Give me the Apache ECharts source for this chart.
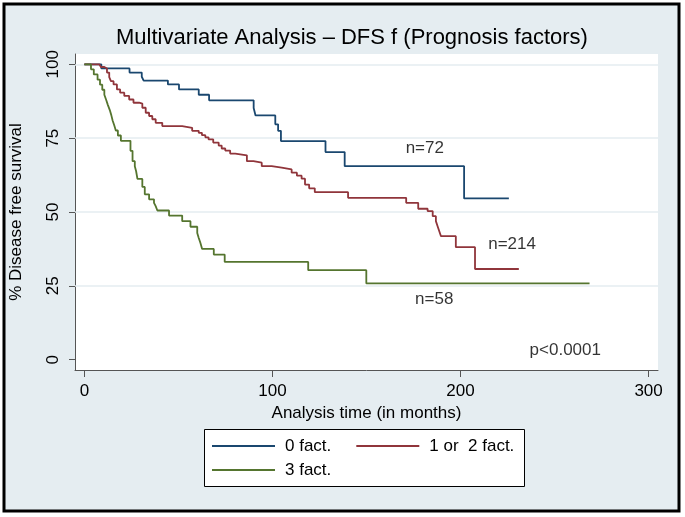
<!DOCTYPE html>
<html>
<head>
<meta charset="utf-8">
<script src="https://cdn.jsdelivr.net/npm/echarts@6/dist/echarts.min.js"></script>
<style>
html, body { margin: 0; padding: 0; background: #fff; }
#main { width: 685px; height: 517px; }
</style>
</head>
<body>
<div id="main"></div>
<script>
var seriesNames = ['0 fact.', '1 or  2 fact.', '3 fact.'];
var seriesColors = ['#1a476f', '#90353b', '#55752f'];

// [months, % disease free] after each drop (Kaplan-Meier steps)
var dfs0 = [
    [0, 100], [9, 98.6], [24, 97.2], [30.5, 95.8], [31.5, 94.5], [44.4, 93.2],
    [50.3, 91.5], [60.8, 89.7], [66.3, 87.8], [90, 85.2], [91, 82.7],
    [101.5, 79.7], [103, 77.5], [104.5, 74.0], [128.2, 70.3], [138.4, 65.5],
    [201.9, 54.6], [225.7, 54.6]
];
var dfs12 = [
    [0, 100], [7.9, 99.5], [8.8, 99.1], [10.6, 98.6], [12, 97.2], [13.2, 95.7],
    [14.1, 94.3], [15.5, 93.2], [17.3, 91.5], [19, 90.4], [21.2, 89.3],
    [23.8, 88.1], [26.1, 87.0], [29.1, 86.7], [30.8, 85.3], [32.6, 83.6],
    [34.4, 82.5], [36.1, 81.4], [37.9, 80.2], [41.4, 79.1], [52, 78.5],
    [57.3, 77.5], [60.8, 76.8], [62.5, 76.0], [64.3, 75.3], [66, 74.6],
    [68.5, 73.5], [71.4, 72.5], [73, 71.5], [74.9, 70.8], [77.5, 69.8],
    [80.2, 69.2], [86.4, 67.2], [89.9, 66.7], [94.3, 65.5], [99.6, 65.0],
    [104.9, 64.4], [110.2, 63.3], [113, 62.3], [115.5, 61.3], [117.3, 59.3],
    [119.5, 58.0], [122.5, 56.7], [140.2, 54.8], [171.1, 53.1], [177.5, 51.1],
    [182.5, 50.3], [185.2, 48.6], [186.9, 46.9], [187.8, 45.2], [188.7, 43.5],
    [189.6, 41.8], [197.5, 38.1], [207.7, 30.7], [231, 30.7]
];
var dfs3 = [
    [0, 100], [3.5, 98.3], [5, 96.6], [7, 94.8], [8.3, 93.1], [9.5, 91.4],
    [10.6, 89.7], [11.6, 87.9], [12.5, 86.2], [13.5, 84.5], [14.3, 82.8],
    [15, 81.0], [15.9, 79.3], [16.7, 77.6], [17.8, 75.9], [19.4, 74.1],
    [24.5, 70.7], [25.6, 67.2], [26.8, 65.5], [27.5, 63.8], [28.2, 61.2],
    [30.8, 58.5], [32.1, 56.0], [34.4, 54.3], [37, 53.1], [37.9, 52.0],
    [38.8, 50.5], [45, 48.8], [52, 46.9], [56.4, 45.0], [60, 42.9],
    [60.8, 41.2], [61.7, 39.5], [62.6, 37.5], [68.8, 35.6], [74.6, 33.1],
    [119, 30.3], [149.9, 25.8], [268.6, 25.8]
];

var xTicks = [0, 100, 200, 300];
var yTicks = [0, 25, 50, 75, 100];
var yGrid = [25, 50, 75, 100];

// text, months, % position
var notes = [
    ['n=72', 181, 71.7],
    ['n=214', 227.4, 39.1],
    ['n=58', 186, 20.5],
    ['p<0.0001', 255.7, 3.3]
];

var font = "'Liberation Sans', Arial, sans-serif";
var bg = '#e5edf1';

var myChart = echarts.init(document.getElementById('main'));

function kmSeries(i, data) {
    return {
        name: seriesNames[i],
        type: 'line',
        step: 'end',
        data: data,
        symbol: 'none',
        showSymbol: false,
        z: 3,
        lineStyle: { color: seriesColors[i], width: 1.8 },
        itemStyle: { color: seriesColors[i] }
    };
}

var legendBase = {
    orient: 'horizontal',
    icon: 'rect',
    itemWidth: 63,
    itemHeight: 2,
    itemGap: 25,
    padding: 0,
    textStyle: { fontFamily: font, fontSize: 17, color: '#000', padding: [0, 0, 0, 5], lineHeight: 17 }
};

var option = {
    backgroundColor: '#fff',
    animation: false,
    graphic: [
        {
            type: 'rect',
            z: -10,
            shape: { x: 4, y: 4, width: 675, height: 507 },
            style: { fill: bg, stroke: '#000', lineWidth: 3 }
        },
        {
            // legend frame
            type: 'rect',
            z: -5,
            shape: { x: 204.5, y: 429.5, width: 320, height: 57 },
            style: { fill: '#fff', stroke: '#000', lineWidth: 1 }
        }
    ],
    title: {
        text: 'Multivariate Analysis \u2013 DFS f (Prognosis factors)',
        left: 111,
        top: 22,
        textStyle: { fontFamily: font, fontSize: 22, fontWeight: 'normal', color: '#000' }
    },
    legend: [
        Object.assign({}, legendBase, { data: [seriesNames[0], seriesNames[1]], left: 212, top: 437.5 }),
        Object.assign({}, legendBase, { data: [seriesNames[2]], left: 212, top: 461.5 })
    ],
    grid: {
        left: 72.5,
        right: 27,
        top: 54,
        bottom: 147,
        show: true,
        backgroundColor: '#fff',
        borderWidth: 0
    },
    xAxis: {
        type: 'value',
        min: -5,
        max: 305,
        name: 'Analysis time (in months)',
        nameLocation: 'middle',
        nameGap: 35,
        nameTextStyle: { fontFamily: font, fontSize: 17, color: '#000' },
        axisLine: { onZero: false, lineStyle: { color: '#555', width: 1 } },
        axisTick: { customValues: xTicks, length: 7, lineStyle: { color: '#555' } },
        axisLabel: { customValues: xTicks, fontFamily: font, fontSize: 17, color: '#000', margin: 13 },
        splitLine: { show: false }
    },
    yAxis: {
        type: 'value',
        min: -3.5,
        max: 103.5,
        name: '% Disease free survival',
        nameLocation: 'middle',
        nameRotate: 90,
        nameGap: 50,
        nameTextStyle: { fontFamily: font, fontSize: 17, color: '#000' },
        axisLine: { show: true, onZero: false, lineStyle: { color: '#555', width: 1 } },
        axisTick: { customValues: yTicks, length: 6, lineStyle: { color: '#555' } },
        axisLabel: { customValues: yTicks, rotate: 90, fontFamily: font, fontSize: 17, color: '#000', margin: 13 },
        splitLine: { show: false }
    },
    series: [
        kmSeries(0, dfs0),
        kmSeries(1, dfs12),
        kmSeries(2, dfs3),
        {
            name: 'notes',
            type: 'scatter',
            symbolSize: 0,
            silent: true,
            z: 4,
            data: notes.map(function (n) { return { name: n[0], value: [n[1], n[2]] }; }),
            label: {
                show: true,
                position: 'inside',
                formatter: '{b}',
                fontFamily: font,
                fontSize: 17,
                color: '#000'
            },
            markLine: {
                silent: true,
                z: 1,
                symbol: 'none',
                animation: false,
                label: { show: false },
                lineStyle: { color: '#e4ecf0', width: 1.5, type: 'solid' },
                data: yGrid.map(function (v) { return { yAxis: v }; })
            }
        }
    ]
};

myChart.setOption(option);
</script>
</body>
</html>
